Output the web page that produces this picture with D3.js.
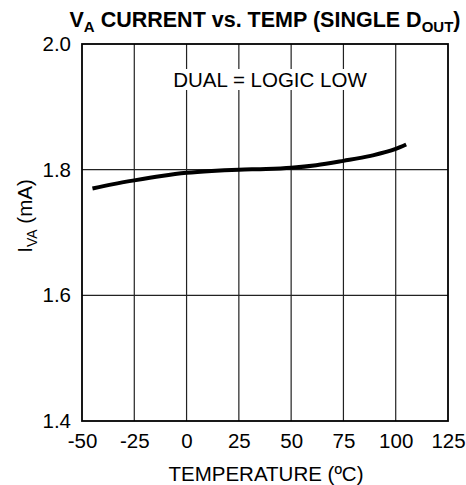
<!DOCTYPE html>
<html>
<head>
<meta charset="utf-8">
<script src="https://cdn.jsdelivr.net/npm/d3@7"></script>
<style>
	body { margin: 0; background: #fff; }
	svg text { font-family: "Liberation Sans", Arial, sans-serif; fill: #000; }
</style>
</head>
<body>
<div id="chart-div"></div>
<script>
// temperature (C) and VA current (mA)
const temps = [-45, -35, -25, -12, 0, 12, 25, 38, 50, 62, 75, 88, 100, 105];
const current = [1.770, 1.777, 1.783, 1.790, 1.795, 1.798, 1.800, 1.801, 1.803, 1.807, 1.814, 1.822, 1.833, 1.840];
const xTicks = [-50, -25, 0, 25, 50, 75, 100, 125];
const yTicks = [1.4, 1.6, 1.8, 2.0];

const width = 466, height = 485;
const plotL = 82, plotR = 448, plotT = 44, plotB = 421;
const fs = "20.5px";

let svg = d3.select("#chart-div")
			.append("svg")
			.attr("width", width)
			.attr("height", height);

const xScale = d3.scaleLinear().domain([-50, 125]).range([plotL, plotR]);
const yScale = d3.scaleLinear().domain([1.4, 2.0]).range([plotB, plotT]);

// grid
svg.append("g")
	.selectAll("line")
	.data(xTicks.slice(1, -1))
	.enter()
	.append("line")
	.attr("x1", d => xScale(d)).attr("x2", d => xScale(d))
	.attr("y1", plotT).attr("y2", plotB)
	.attr("stroke", "#222").attr("stroke-width", 1.2);

svg.append("g")
	.selectAll("line")
	.data(yTicks.slice(1, -1))
	.enter()
	.append("line")
	.attr("x1", plotL).attr("x2", plotR)
	.attr("y1", d => yScale(d)).attr("y2", d => yScale(d))
	.attr("stroke", "#222").attr("stroke-width", 1.2);

// annotation with white box behind
const noteG = svg.append("g");
const note = noteG.append("text")
	.attr("x", 270).attr("y", 87)
	.attr("text-anchor", "middle")
	.style("font-size", fs)
	.text("DUAL = LOGIC LOW");
const bb = note.node().getBBox();
noteG.insert("rect", "text")
	.attr("x", bb.x - 2).attr("y", bb.y + 1)
	.attr("width", bb.width + 4).attr("height", bb.height - 2)
	.attr("fill", "#fff");

// frame
svg.append("rect")
	.attr("x", plotL).attr("y", plotT)
	.attr("width", plotR - plotL).attr("height", plotB - plotT)
	.attr("fill", "none").attr("stroke", "#000").attr("stroke-width", 1.8);

// axes labels via d3 axes with no tick lines
const xAxis = d3.axisBottom(xScale).tickValues(xTicks).tickSize(0).tickPadding(12).tickFormat(d => String(d));
svg.append("g")
	.attr("transform", `translate(0, ${plotB})`)
	.call(xAxis)
	.call(g => g.select(".domain").remove())
	.selectAll("text")
	.style("font-size", fs)
	.style("font-family", "Liberation Sans, Arial, sans-serif")
	.attr("fill", "#000");

const yAxis = d3.axisLeft(yScale).tickValues(yTicks).tickSize(0).tickPadding(11).tickFormat(d3.format(".1f"));
svg.append("g")
	.attr("transform", `translate(${plotL}, 0)`)
	.call(yAxis)
	.call(g => g.select(".domain").remove())
	.selectAll("text")
	.style("font-size", fs)
	.style("font-family", "Liberation Sans, Arial, sans-serif")
	.attr("fill", "#000");

// curve
const line = d3.line()
	.x((d, i) => xScale(temps[i]))
	.y(d => yScale(d))
	.curve(d3.curveMonotoneX);

svg.append("path")
	.datum(current)
	.attr("d", line)
	.attr("fill", "none")
	.attr("stroke", "#000")
	.attr("stroke-width", 4);

// title
const title = svg.append("text")
	.attr("x", 265).attr("y", 27)
	.attr("text-anchor", "middle")
	.style("font-size", "21.5px")
	.style("font-weight", "bold");
title.append("tspan").text("V");
title.append("tspan").attr("dy", 5).style("font-size", "15px").text("A");
title.append("tspan").attr("dy", -5).text(" CURRENT vs. TEMP (SINGLE D");
title.append("tspan").attr("dy", 5).style("font-size", "15px").text("OUT");
title.append("tspan").attr("dy", -5).text(")");

// x title
svg.append("text")
	.attr("x", 266).attr("y", 481)
	.attr("text-anchor", "middle")
	.style("font-size", fs)
	.text("TEMPERATURE (ºC)");

// y title
const yTitle = svg.append("text")
	.attr("transform", `translate(32, 216) rotate(-90)`)
	.attr("text-anchor", "middle")
	.style("font-size", fs);
yTitle.append("tspan").text("I");
yTitle.append("tspan").attr("dy", 5).style("font-size", "14px").text("VA");
yTitle.append("tspan").attr("dy", -5).text(" (mA)");
</script>
</body>
</html>
